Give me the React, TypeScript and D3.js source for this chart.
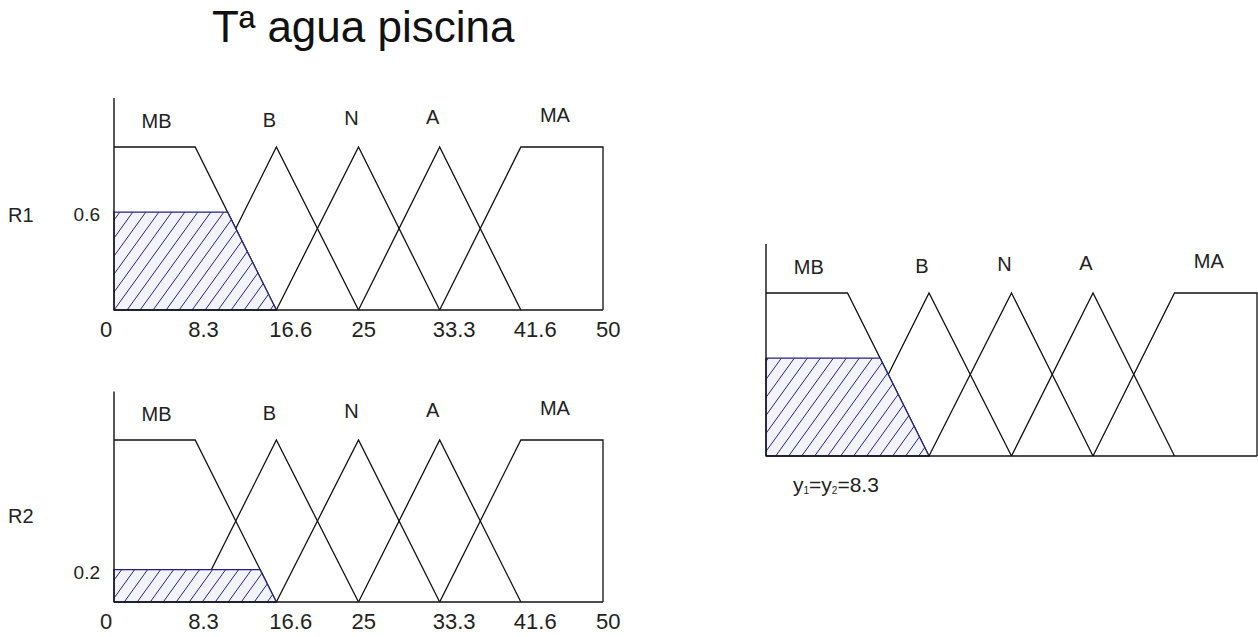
import React from "react";
import * as d3 from "d3";

// ---- data ----
const title = "Tª agua piscina";
const categories = ["MB", "B", "N", "A", "MA"];
const tickValues = [0, 8.3, 16.6, 25, 33.3, 41.6, 50];
const tickLabels = ["0", "8.3", "16.6", "25", "33.3", "41.6", "50"];
const mfMB: [number, number][] = [[0, 1], [8.3, 1], [16.6, 0]];
const mfB: [number, number][] = [[8.3, 0], [16.6, 1], [25, 0]];
const mfN: [number, number][] = [[16.6, 0], [25, 1], [33.3, 0]];
const mfA: [number, number][] = [[25, 0], [33.3, 1], [41.6, 0]];
const mfMA: [number, number][] = [[33.3, 0], [41.6, 1], [50, 1], [50, 0]];
const memberships = [mfMB, mfB, mfN, mfA, mfMA];
const ruleNames = ["R1", "R2"];
const ruleDegrees = [0.6, 0.2];
const ruleDegreeLabels = ["0.6", "0.2"];
const outputDegree = 0.6;
const outputValueLabel = "8.3";

// ---- layout ----
const FONT = "'Liberation Sans', Arial, Helvetica, sans-serif";
const INK = "#111";
const HATCH = "#23237a";

type PanelLayout = { x0: number; x1: number; base: number; top: number };
const layouts: PanelLayout[] = [
  { x0: 114, x1: 603, base: 310, top: 147 },
  { x0: 114, x1: 603, base: 602, top: 440 },
  { x0: 766, x1: 1257, base: 456, top: 293 },
];

function Panel({ layout, alpha, showTicks }: { layout: PanelLayout; alpha: number; showTicks: boolean }) {
  const x = d3.scaleLinear().domain([0, 50]).range([layout.x0, layout.x1]);
  const y = d3.scaleLinear().domain([0, 1]).range([layout.base, layout.top]);
  const line = d3
    .line<[number, number]>()
    .x((d) => x(d[0]))
    .y((d) => y(d[1]));

  // clipped MB set at the firing level
  const [, p1, p2] = mfMB;
  const xa = p1[0] + ((p1[1] - alpha) / (p1[1] - p2[1])) * (p2[0] - p1[0]);
  const clipped: [number, number][] = [[0, 0], [0, alpha], [xa, alpha], [p2[0], 0]];

  return (
    <g>
      {memberships.map((mf, i) => (
        <path key={i} d={line(mf) || ""} fill="none" stroke={INK} strokeWidth={1.3} />
      ))}
      <path d={(line(clipped) || "") + "Z"} fill="#f3f3fb" stroke="none" />
      <path d={(line(clipped) || "") + "Z"} fill="url(#hatch)" stroke={HATCH} strokeWidth={1.3} />
      {/* axes */}
      <line x1={x(0)} x2={x(0)} y1={y(1.3)} y2={y(0)} stroke={INK} strokeWidth={1.4} />
      <line x1={x(0)} x2={x(50)} y1={y(0)} y2={y(0)} stroke={INK} strokeWidth={1.4} />
      {categories.map((c, i) => {
        const tops = memberships[i].filter((p) => p[1] === 1).map((p) => p[0]);
        const cx = x(d3.mean(tops) as number) + (c === "MB" ? 2 : -7);
        return (
          <text key={c} x={cx} y={y(1) - (19 + 1.5 * i)} textAnchor="middle" fontSize={20} fontFamily={FONT} fill="#222">
            {c}
          </text>
        );
      })}
      {showTicks &&
        tickValues.map((v, i) => (
          <text key={v} x={x(v) - (i === 0 ? 14 : 7)} y={y(0) + 27} fontSize={22} fontFamily={FONT} fill="#222">
            {tickLabels[i]}
          </text>
        ))}
    </g>
  );
}

export default function App() {
  const ruleLabelY = [222, 523];
  return (
    <svg width={1258} height={637} style={{ position: "absolute", left: 0, top: 0, background: "#fff" }}>
      <defs>
        <pattern id="hatch" patternUnits="userSpaceOnUse" width={13} height={18}>
          <path d="M0,18 L13,0 M-3.25,4.5 L3.25,-4.5 M9.75,22.5 L16.25,13.5" stroke={HATCH} strokeWidth={1} fill="none" />
        </pattern>
      </defs>
      <rect width={1258} height={637} fill="#fff" />
      <text x={212} y={42} fontSize={44} fontFamily={FONT} fill="#111">
        {title}
      </text>
      {ruleNames.map((r, i) => {
        const L = layouts[i];
        const y = d3.scaleLinear().domain([0, 1]).range([L.base, L.top]);
        return (
          <g key={r}>
            <Panel layout={L} alpha={ruleDegrees[i]} showTicks={true} />
            <text x={8} y={ruleLabelY[i]} fontSize={20} fontFamily={FONT} fill="#222">
              {r}
            </text>
            <text x={100} y={y(ruleDegrees[i]) + 9} textAnchor="end" fontSize={19} fontFamily={FONT} fill="#222">
              {ruleDegreeLabels[i]}
            </text>
          </g>
        );
      })}
      <Panel layout={layouts[2]} alpha={outputDegree} showTicks={false} />
      <text x={793} y={492} fontSize={21} fontFamily={FONT} fill="#222">
        y<tspan fontSize={10} dy={2}>1</tspan>
        <tspan dy={-2}>=y</tspan>
        <tspan fontSize={10} dy={2}>2</tspan>
        <tspan dy={-2}>={outputValueLabel}</tspan>
      </text>
    </svg>
  );
}
